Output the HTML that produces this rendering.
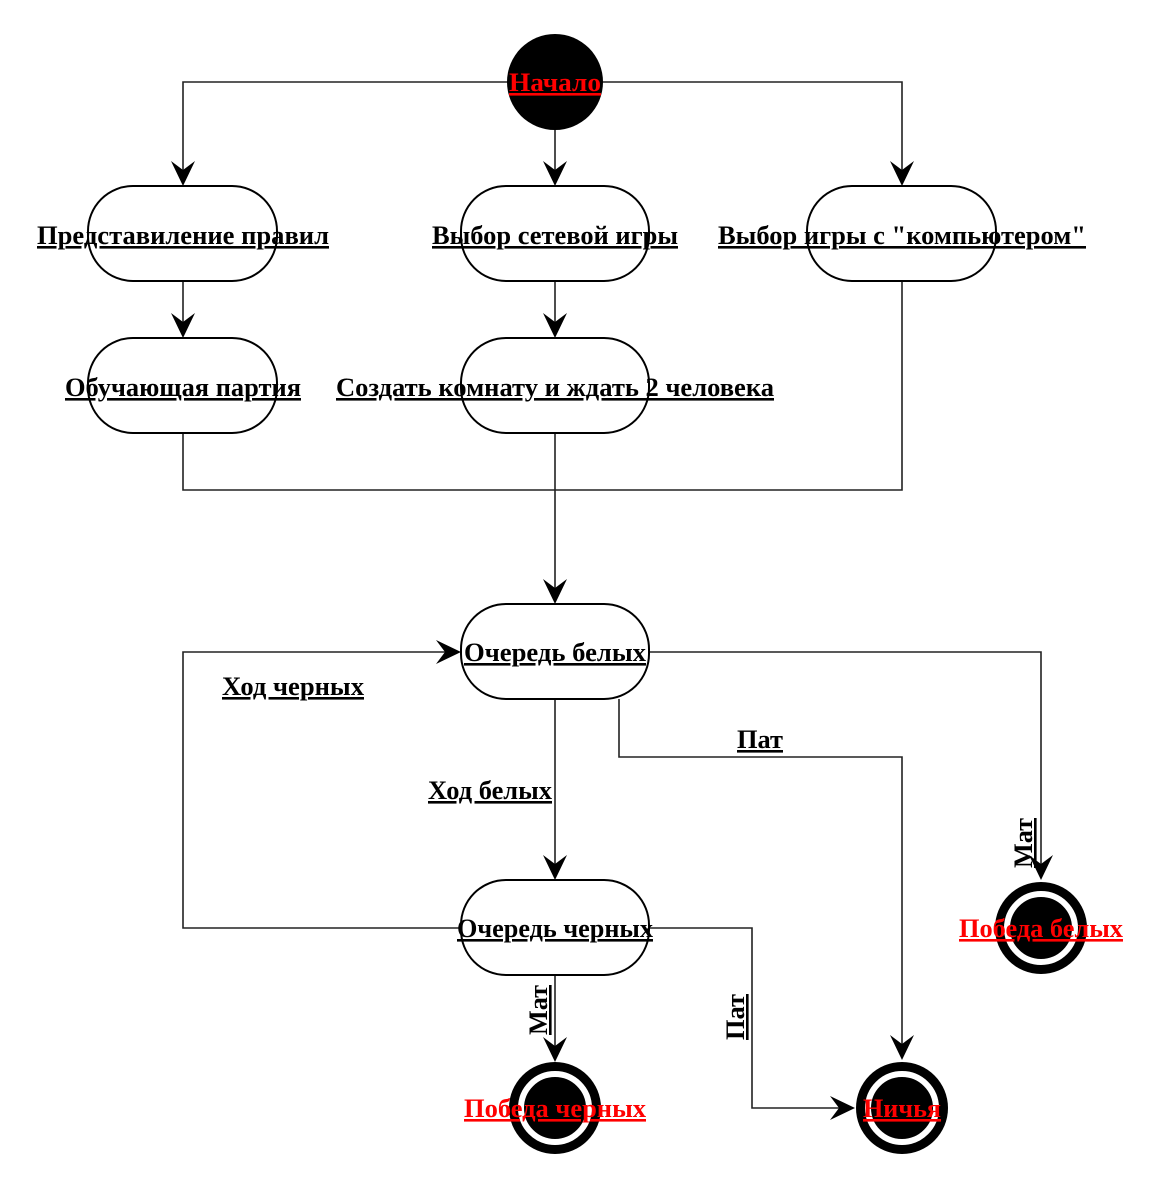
<!DOCTYPE html>
<html><head><meta charset="utf-8"><style>
html,body{margin:0;padding:0;background:#fff;}
svg{display:block}
text{font-family:"Liberation Serif","DejaVu Serif",serif;font-weight:bold;font-size:26px;text-decoration:underline;text-anchor:middle;}
</style></head><body>
<svg width="1161" height="1190" viewBox="0 0 1161 1190" xmlns="http://www.w3.org/2000/svg">
<defs>
<path id="ah" d="M0,0 L-12,-25 L0,-16 L12,-25 Z" fill="#000"/>
</defs>
<g fill="none" stroke="#222" stroke-width="1.6">
<polyline points="510,82 183,82 183,176"/>
<line x1="555" y1="130" x2="555" y2="176"/>
<polyline points="600,82 902,82 902,176"/>
<line x1="183" y1="281" x2="183" y2="328"/>
<line x1="555" y1="281" x2="555" y2="328"/>
<polyline points="183,433 183,490 902,490 902,281"/>
<line x1="555" y1="433" x2="555" y2="594"/>
<polyline points="649,652 1041,652 1041,870"/>
<polyline points="619,699 619,757 902,757 902,1050"/>
<line x1="555" y1="699" x2="555" y2="870"/>
<polyline points="461,928 183,928 183,652 451,652"/>
<polyline points="649,928 752,928 752,1108 845,1108"/>
<line x1="555" y1="975" x2="555" y2="1052"/>
</g>
<g>
<use href="#ah" transform="translate(183,186)"/>
<use href="#ah" transform="translate(555,186)"/>
<use href="#ah" transform="translate(902,186)"/>
<use href="#ah" transform="translate(183,338)"/>
<use href="#ah" transform="translate(555,338)"/>
<use href="#ah" transform="translate(555,604)"/>
<use href="#ah" transform="translate(1041,880)"/>
<use href="#ah" transform="translate(902,1060)"/>
<use href="#ah" transform="translate(555,880)"/>
<use href="#ah" transform="translate(555,1062)"/>
<use href="#ah" transform="translate(461,652) rotate(-90)"/>
<use href="#ah" transform="translate(855,1108) rotate(-90)"/>
</g>
<circle cx="555" cy="82" r="48" fill="#000"/>
<g fill="#fff" stroke="#000" stroke-width="2">
<rect x="88" y="186" width="189" height="95" rx="45"/>
<rect x="461" y="186" width="188" height="95" rx="45"/>
<rect x="807" y="186" width="189" height="95" rx="45"/>
<rect x="88" y="338" width="189" height="95" rx="45"/>
<rect x="461" y="338" width="188" height="95" rx="45"/>
<rect x="461" y="604" width="188" height="95" rx="45"/>
<rect x="461" y="880" width="188" height="95" rx="45"/>
</g>
<g>
<circle cx="555" cy="1108" r="46" fill="#000"/><circle cx="555" cy="1108" r="34" fill="none" stroke="#fff" stroke-width="6"/>
<circle cx="902" cy="1108" r="46" fill="#000"/><circle cx="902" cy="1108" r="34" fill="none" stroke="#fff" stroke-width="6"/>
<circle cx="1041" cy="928" r="46" fill="#000"/><circle cx="1041" cy="928" r="34" fill="none" stroke="#fff" stroke-width="6"/>
</g>
<g fill="#000">
<text x="183" y="244" textLength="292" lengthAdjust="spacingAndGlyphs">Представиление правил</text>
<text x="555" y="244" textLength="246" lengthAdjust="spacingAndGlyphs">Выбор сетевой игры</text>
<text x="902" y="244" textLength="368" lengthAdjust="spacingAndGlyphs">Выбор игры с "компьютером"</text>
<text x="183" y="396" textLength="236" lengthAdjust="spacingAndGlyphs">Обучающая партия</text>
<text x="555" y="396" textLength="438" lengthAdjust="spacingAndGlyphs">Создать комнату и ждать 2 человека</text>
<text x="555" y="661" textLength="182" lengthAdjust="spacingAndGlyphs">Очередь белых</text>
<text x="555" y="937" textLength="196" lengthAdjust="spacingAndGlyphs">Очередь черных</text>
<text x="293" y="695" textLength="142" lengthAdjust="spacingAndGlyphs">Ход черных</text>
<text x="490" y="799" textLength="124" lengthAdjust="spacingAndGlyphs">Ход белых</text>
<text x="760" y="748" textLength="46" lengthAdjust="spacingAndGlyphs">Пат</text>
<text transform="translate(1032,843) rotate(-90)" textLength="50" lengthAdjust="spacingAndGlyphs">Мат</text>
<text transform="translate(547,1010) rotate(-90)" textLength="50" lengthAdjust="spacingAndGlyphs">Мат</text>
<text transform="translate(744,1017) rotate(-90)" textLength="46" lengthAdjust="spacingAndGlyphs">Пат</text>
</g>
<g fill="#f00">
<text x="555" y="91" textLength="92" lengthAdjust="spacingAndGlyphs">Начало</text>
<text x="555" y="1117" textLength="182" lengthAdjust="spacingAndGlyphs">Победа черных</text>
<text x="902" y="1117" textLength="78" lengthAdjust="spacingAndGlyphs">Ничья</text>
<text x="1041" y="937" textLength="164" lengthAdjust="spacingAndGlyphs">Победа белых</text>
</g>
</svg>
</body></html>
